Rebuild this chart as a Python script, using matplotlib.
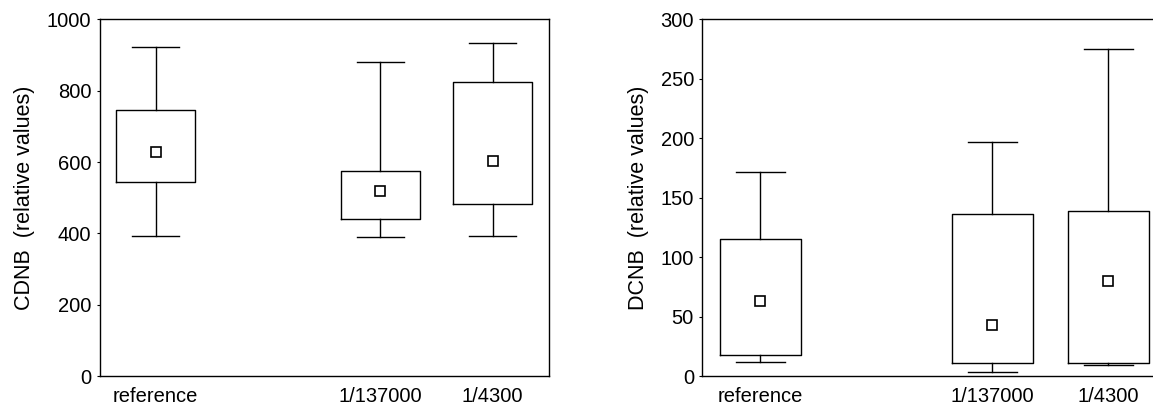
"""Box plots of CDNB and DCNB relative values for three groups."""

import matplotlib

matplotlib.use("Agg")

import matplotlib.pyplot as plt

plt.rcParams["font.family"] = ["Liberation Sans", "DejaVu Sans"]

groups = ["reference", "1/137000", "1/4300"]
positions = [1, 3, 4]

# CDNB panel
cdnb_low = [393, 391, 394]
cdnb_q1 = [543, 439, 483]
cdnb_mid = [629, 519, 604]
cdnb_q3 = [746, 575, 824]
cdnb_high = [922, 879, 933]

# DCNB panel
dcnb_low = [12.3, 3.6, 9.2]
dcnb_q1 = [18, 11.5, 11.5]
dcnb_mid = [63.5, 43.4, 80]
dcnb_q3 = [115, 136, 139]
dcnb_high = [172, 197, 275]


def make_stats(low, q1, mid, q3, high):
    stats = []
    for i in range(len(groups)):
        stats.append({
            "label": groups[i],
            "whislo": low[i],
            "q1": q1[i],
            "med": mid[i],
            "mean": mid[i],
            "q3": q3[i],
            "whishi": high[i],
            "fliers": [],
        })
    return stats


def draw_panel(ax, stats, ylim, yticks, ylabel, label_x):
    line = {"color": "black", "linewidth": 1.0}
    ax.bxp(
        stats,
        positions=positions,
        widths=0.7,
        showmeans=True,
        showfliers=False,
        boxprops=line,
        whiskerprops=line,
        capprops=line,
        capwidths=0.42,
        medianprops={"linewidth": 0},
        meanprops={"marker": "s", "markersize": 7, "markerfacecolor": "white",
                   "markeredgecolor": "black", "markeredgewidth": 1.2},
    )
    ax.set_xlim(0.5, 4.5)
    ax.set_ylim(*ylim)
    ax.set_yticks(yticks)
    ax.set_xticks(positions)
    ax.set_xticklabels(groups)
    ax.tick_params(axis="x", length=0, pad=8, labelsize=14.5)
    ax.tick_params(axis="y", length=2.5, width=0.8, pad=3.5, labelsize=14.5)
    for spine in ax.spines.values():
        spine.set_linewidth(1.0)
    ax.set_ylabel(ylabel, fontsize=15.5)
    ax.yaxis.set_label_coords(label_x, 0.5)


fig = plt.figure(figsize=(11.53, 4.05), dpi=100)
ax_left = fig.add_axes([0.0864, 0.0711, 0.3895, 0.8815])
ax_right = fig.add_axes([0.6091, 0.0711, 0.4024, 0.8815])

draw_panel(ax_left, make_stats(cdnb_low, cdnb_q1, cdnb_mid, cdnb_q3, cdnb_high),
           (0, 1000), range(0, 1001, 200), "CDNB  (relative values)", -0.144)
draw_panel(ax_right, make_stats(dcnb_low, dcnb_q1, dcnb_mid, dcnb_q3, dcnb_high),
           (0, 300), range(0, 301, 50), "DCNB  (relative values)", -0.115)

fig.savefig("out.png", dpi=100)
plt.close(fig)
